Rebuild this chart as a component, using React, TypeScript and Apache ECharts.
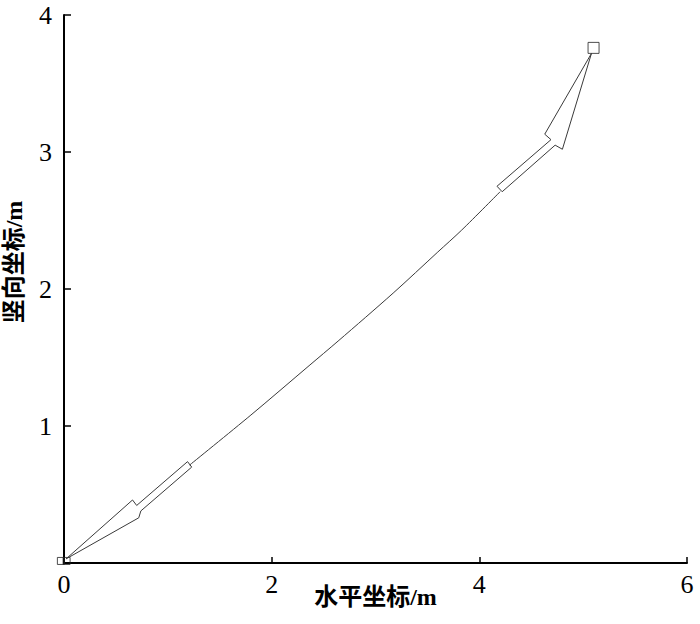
import React, { useEffect, useRef } from "react";
import * as echarts from "echarts";

// trajectory (m)
const trackX = [1.21, 1.80, 2.36, 2.64, 3.17, 3.60, 3.83, 4.20];
const trackY = [0.715, 1.08, 1.44, 1.62, 1.97, 2.27, 2.43, 2.71];

// arrow outlines (m)
const topArrowX = [5.08, 4.63, 4.69, 4.17, 4.22, 4.73, 4.80, 5.08];
const topArrowY = [3.72, 3.13, 3.09, 2.75, 2.71, 3.05, 3.02, 3.72];
const bottomArrowX = [0.02, 0.66, 0.70, 1.19, 1.23, 0.74, 0.72, 0.02];
const bottomArrowY = [0.03, 0.46, 0.42, 0.74, 0.70, 0.38, 0.33, 0.03];

// square markers
const startMarkX = [-0.03, 0.025];
const startMarkY = [0.015, 0.015];
const endMarkX = [5.10];
const endMarkY = [3.76];

const xTicks = [0, 2, 4, 6];
const yTicks = [0, 1, 2, 3, 4];

const zip = (xs: number[], ys: number[]) => xs.map((x, i) => [x, ys[i]]);

export default function App() {
  const ref = useRef<HTMLDivElement>(null);
  useEffect(() => {
    const chart = echarts.init(ref.current!, null, { renderer: "svg" });
    const lineColor = "#3a3a3a";
    const axisStyle = { lineStyle: { color: "#000", width: 2 } };
    const serif = "'Liberation Serif', 'Noto Sans CJK SC', serif";
    chart.setOption({
      animation: false,
      backgroundColor: "#fff",
      grid: { left: 64, right: 13, top: 15, bottom: 61, containLabel: false, outerBoundsMode: "none" },
      xAxis: {
        type: "value",
        min: xTicks[0],
        max: xTicks[xTicks.length - 1],
        interval: 2,
        name: "水平坐标/m",
        nameLocation: "middle",
        nameGap: 22,
        nameMoveOverlap: false,
        nameTextStyle: { fontFamily: serif, fontSize: 24, fontWeight: "bold", color: "#000" },
        axisLine: axisStyle,
        axisTick: { inside: true, length: 6, lineStyle: { color: "#000", width: 1.5 } },
        axisLabel: { fontFamily: serif, fontSize: 26, color: "#000", margin: 8 },
        splitLine: { show: false },
      },
      yAxis: {
        type: "value",
        min: yTicks[0],
        max: yTicks[yTicks.length - 1],
        interval: 1,
        name: "竖向坐标/m",
        nameLocation: "middle",
        nameGap: 38,
        nameRotate: 90,
        nameMoveOverlap: false,
        nameTextStyle: {
          fontFamily: serif,
          fontSize: 24,
          fontWeight: "bold",
          color: "#000",
          padding: [0, 0, 0, 54],
        },
        axisLine: axisStyle,
        axisTick: { inside: true, length: 7, lineStyle: { color: "#000", width: 1.5 } },
        axisLabel: { fontFamily: serif, fontSize: 26, color: "#000", margin: 12, showMinLabel: false },
        splitLine: { show: false },
      },
      series: [
        {
          type: "line",
          data: zip(trackX, trackY),
          showSymbol: false,
          smooth: 0.3,
          lineStyle: { color: lineColor, width: 1 },
          clip: false,
        },
        {
          type: "line",
          data: zip(topArrowX, topArrowY),
          showSymbol: false,
          lineStyle: { color: lineColor, width: 1 },
          clip: false,
        },
        {
          type: "line",
          data: zip(bottomArrowX, bottomArrowY),
          showSymbol: false,
          lineStyle: { color: lineColor, width: 1 },
          clip: false,
        },
        {
          type: "scatter",
          data: zip(startMarkX, startMarkY),
          symbol: "rect",
          symbolSize: 7,
          itemStyle: { color: "rgba(0,0,0,0)", borderColor: "#222", borderWidth: 1 },
          clip: false,
        },
        {
          type: "scatter",
          data: zip(endMarkX, endMarkY),
          symbol: "rect",
          symbolSize: 11,
          itemStyle: { color: "rgba(0,0,0,0)", borderColor: "#222", borderWidth: 1 },
          clip: false,
        },
      ],
    });
    return () => chart.dispose();
  }, []);
  return (
    <div
      ref={ref}
      style={{ position: "fixed", left: 0, top: 0, width: 700, height: 624, background: "#fff" }}
    />
  );
}
